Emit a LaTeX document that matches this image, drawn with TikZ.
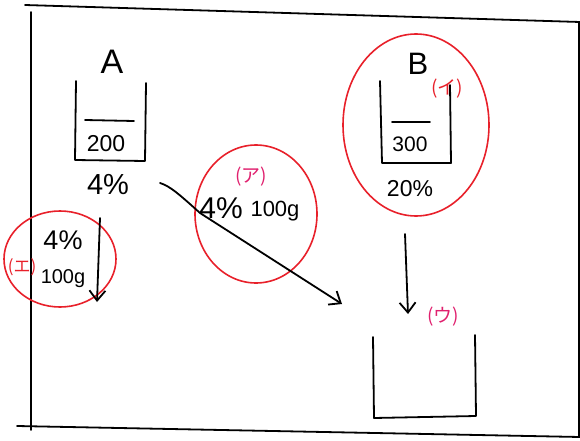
\documentclass[tikz,border=0pt]{standalone}
\usepackage{fontspec}
\setmainfont{Liberation Sans}
\newfontfamily\jp{Noto Sans CJK JP}
\usetikzlibrary{shapes.geometric,arrows.meta}
\definecolor{redc}{HTML}{E8202A}
\definecolor{pinkc}{HTML}{E0206E}
\tikzset{
  ink/.style={line width=1.8pt,black,line cap=round,line join=round},
  ring/.style={draw=redc,line width=1.6pt,ellipse,inner sep=0pt},
  lab/.style={text=redc,font=\jp\fontsize{19}{19}\selectfont,inner sep=0pt},
  plab/.style={text=pinkc,font=\jp\fontsize{19}{19}\selectfont,inner sep=0pt},
  fs/.style={font=\fontsize{#1}{#1}\selectfont,inner sep=0pt},
  arr/.style={ink,-{Straight Barb[length=10pt,width=16pt,line width=1.8pt]}}
}
\begin{document}
\begin{tikzpicture}[x=1pt,y=-1pt]
\useasboundingbox (0,0) rectangle (580,441);
% frame
\draw[ink] (25,5) -- (580,22);
\draw[ink] (31,12) -- (31,430);
\draw[ink] (17,426) -- (580,437);
\draw[ink] (579,22) -- (579,437);
% beaker A
\node[fs=34] (A) at (112,62) {A};
\draw[ink] (76,81) -- (75,160) -- (145,161) -- (146,83);
\draw[ink] (85,120) -- (134,121);
\node[fs=23] (a200) at (106,144) {200};
\node[fs=29] (a4) at (108,185) {4\%};
% beaker B
\node[fs=31] (B) at (418,64) {B};
\draw[ink] (380,81) -- (382,163) -- (451,163) -- (450,85);
\draw[ink] (392,122) -- (430,122);
\node[fs=21] (b300) at (410,144) {300};
\node[fs=23] (b20) at (410,189) {20\%};
% bottom beaker
\draw[ink] (373,337) -- (374,418) -- (476,416) -- (475,335);
% circles
\node[ring,minimum width=146pt,minimum height=182pt] (cB) at (416,125) {};
\node[lab] (li) at (447,89) {(イ)};
\node[ring,minimum width=122pt,minimum height=138pt] (cP) at (256,214) {};
\node[plab] (lp) at (251,177) {(ア)};
\node[fs=30] (p4) at (221,208) {4\%};
\node[fs=22] (p100) at (275,211) {100g};
\node[ring,minimum width=112pt,minimum height=96pt] (cE) at (60,259) {};
\node[lab,font=\jp\fontsize{17}{17}\selectfont] (le) at (22,267) {(エ)};
\node[fs=27] (e4) at (63,240) {4\%};
\node[fs=20] (e100) at (63,279) {100g};
\node[plab] (lu) at (443,317) {(ウ)};
% arrows
\coordinate (s1) at (160,183);
\coordinate (e1) at (342,304);
\draw[arr] (s1) .. controls (170,186) and (180,195) .. (200,213) -- (e1);
\coordinate (s2) at (100,218);
\coordinate (e2) at (97,302);
\draw[arr] (s2) -- (e2);
\coordinate (s3) at (405,234);
\coordinate (e3) at (408,314);
\draw[arr] (s3) -- (e3);
\end{tikzpicture}
\end{document}
